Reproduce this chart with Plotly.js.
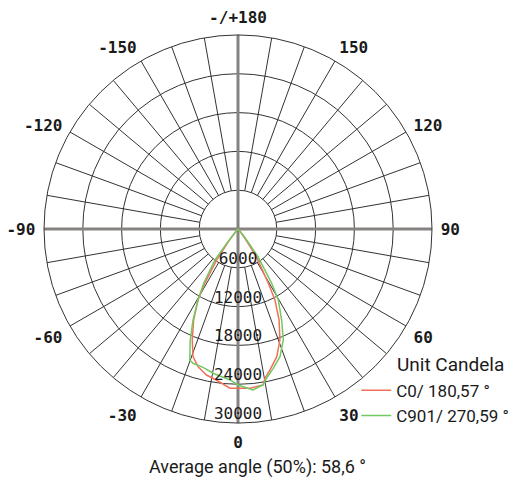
<!DOCTYPE html>
<html>
<head>
<meta charset="utf-8">
<script src="https://cdn.plot.ly/plotly-3.0.1.min.js"></script>
<style>html,body{margin:0;padding:0;background:#fff;}#chart{width:517px;height:481px;}</style>
</head>
<body>
<div id="chart"></div>
<script>
// ---- data ----
const angleTickVals = [0, 30, 60, 90, 120, 150, 180, 210, 240, 270, 300, 330];
const angleTickText = ["0", "30", "60", "90", "120", "150", "-/+180", "-150", "-120", "-90", "-60", "-30"];
const radialTickVals = [6000, 12000, 18000, 24000, 30000];
const radialTickText = ["6000", "12000", "18000", "24000", "30000"];

const c0Name = "C0/ 180,57 °";
const c0Theta = [-90, -60, -45, -40, -37, -34.5, -31.5, -29.4, -26.0, -22.4, -19.4, -16.2, -12.2, -8.2, -2.9, 4.3, 9.1, 10.3, 12.8, 16.9, 20.7, 24.3, 27.5, 29.2, 33.5, 36, 40, 45, 60, 90];
const c0R     = [0, 50, 200, 700, 2500, 5810, 9850, 12600, 15650, 18560, 20930, 22170, 23100, 23590, 24660, 24700, 24430, 23410, 22350, 20630, 18350, 15430, 12380, 9610, 5130, 2200, 700, 200, 50, 0];

const c90Name = "C901/ 270,59 °";
const c90Theta = [-90, -60, -45, -40, -38.5, -36.6, -32.3, -29.4, -26.3, -23.3, -20.2, -18.5, -14.2, -9.8, -3.0, 0, 5.3, 9.1, 10.9, 14.2, 18.2, 22.2, 25.6, 29.6, 31.8, 35.8, 38, 41, 45, 60, 90];
const c90R     = [0, 50, 200, 700, 2600, 5970, 9930, 12600, 15700, 18680, 21590, 21900, 22060, 22640, 23380, 24120, 25000, 24430, 23460, 22220, 20780, 18540, 15610, 12620, 9880, 5280, 2300, 700, 200, 50, 0];

const unitText = "Unit Candela";
const footerText = "Average angle (50%): 58,6 °";

// ---- grid helpers (derived from the axis ticks) ----
const rMin = radialTickVals[0];
const rMax = radialTickVals[radialTickVals.length - 1];
const spokeR = [], spokeT = [];
for (let a = 10; a < 360; a += 10) {
  if (a % 90 === 0) continue;
  spokeR.push(rMin, rMax, null);
  spokeT.push(a, a, null);
}
const gridColor = "#333333";
const monoFont = "DejaVu Sans Mono";

const traces = [
  {type: "scatterpolar", mode: "lines", r: spokeR, theta: spokeT, connectgaps: false,
   line: {color: gridColor, width: 1}, showlegend: false, hoverinfo: "skip"},
  {type: "scatterpolar", mode: "lines", r: [rMax, 0, rMax], theta: [270, 0, 90],
   line: {color: "#878282", width: 3}, showlegend: false, hoverinfo: "skip"},
  {type: "scatterpolar", mode: "lines", r: [rMax, 0, rMax], theta: [180, 0, 0],
   line: {color: "#878282", width: 3}, showlegend: false, hoverinfo: "skip"},
  {type: "scatterpolar", mode: "lines", name: c0Name, r: c0R, theta: c0Theta,
   line: {color: "#f07058", width: 1.5}},
  {type: "scatterpolar", mode: "lines", name: c90Name, r: c90R, theta: c90Theta,
   line: {color: "#72c862", width: 1.5}},
  {type: "scatterpolar", mode: "text", r: radialTickVals, theta: radialTickVals.map(() => 0),
   text: radialTickText, textposition: "top center",
   textfont: {family: monoFont, size: 16, color: "#1a1a1a"}, showlegend: false, hoverinfo: "skip"}
];

const layout = {
  width: 517, height: 481,
  margin: {l: 44, r: 85, t: 35, b: 58, autoexpand: false},
  paper_bgcolor: "#ffffff",
  showlegend: true,
  polar: {
    bgcolor: "#ffffff",
    angularaxis: {
      rotation: -90, direction: "counterclockwise",
      tickmode: "array", tickvals: angleTickVals, ticktext: angleTickText,
      showgrid: false, showline: true, linecolor: gridColor, linewidth: 1,
      ticks: "outside", ticklen: 5, tickcolor: "rgba(0,0,0,0)",
      tickfont: {family: monoFont, size: 16, color: "#1a1a1a", weight: "bold"}
    },
    radialaxis: {
      range: [0, rMax], tickmode: "array", tickvals: radialTickVals,
      showticklabels: false, ticks: "", showline: false,
      showgrid: true, gridcolor: gridColor, gridwidth: 1
    }
  },
  legend: {
    xref: "container", yref: "container", x: 0.689, y: 0.225,
    xanchor: "left", yanchor: "top",
    bgcolor: "rgba(0,0,0,0)", tracegroupgap: 0,
    font: {family: "Roboto", size: 17, color: "#1a1a1a"}
  },
  annotations: [
    {xref: "paper", yref: "paper", x: 0.905, y: 0.1495, xanchor: "left", yanchor: "middle",
     text: unitText, showarrow: false, font: {family: "Roboto", size: 19, color: "#1a1a1a"}},
    {xref: "paper", yref: "paper", x: 0.5515, y: -0.1134, xanchor: "center", yanchor: "middle",
     text: footerText, showarrow: false, font: {family: "Roboto", size: 18, color: "#1a1a1a"}}
  ]
};

Plotly.newPlot("chart", traces, layout, {displayModeBar: false, staticPlot: true});
</script>
</body>
</html>
